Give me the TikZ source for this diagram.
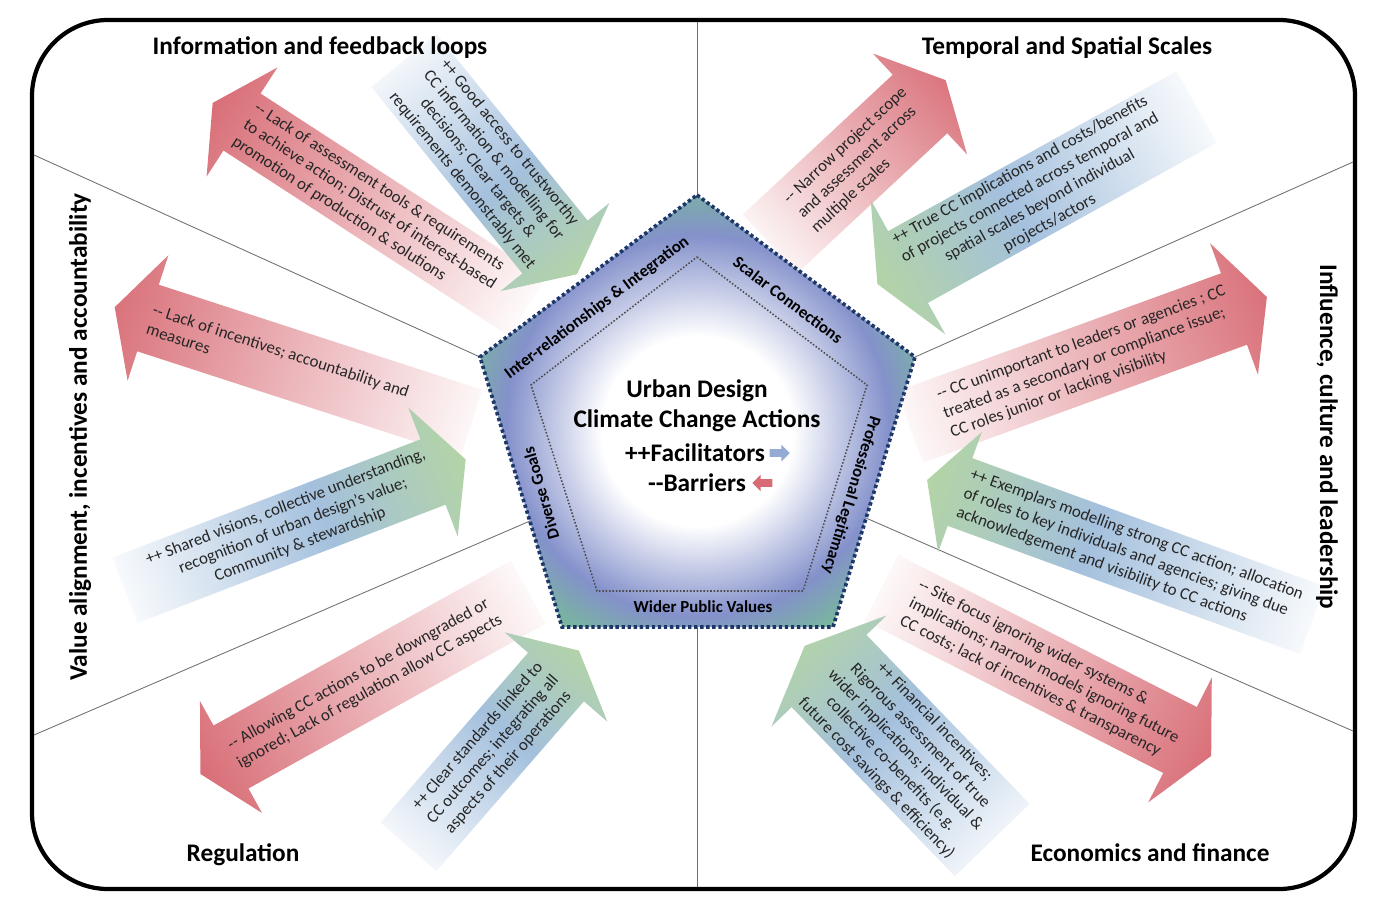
\documentclass[tikz,border=0pt]{standalone}
\usepackage{fontspec}
\setmainfont{Carlito}
\usetikzlibrary{positioning,shapes.arrows}
\definecolor{barred}{RGB}{216,108,117}
\definecolor{facblue}{RGB}{164,192,221}
\definecolor{facgreen}{RGB}{180,214,160}
\definecolor{facsmall}{RGB}{150,170,214}
\definecolor{pentblue}{RGB}{132,145,203}
\definecolor{pentgreen}{RGB}{118,190,148}
\definecolor{pentline}{RGB}{30,55,105}
\definecolor{sepline}{RGB}{110,110,110}
\pgfdeclarehorizontalshading{barshade}{100bp}{color(0bp)=(white); color(18bp)=(white); color(82bp)=(barred); color(100bp)=(barred)}
\pgfdeclarehorizontalshading{facshade}{100bp}{color(0bp)=(white); color(18bp)=(white); color(55bp)=(facblue); color(82bp)=(facgreen); color(100bp)=(facgreen)}
\pgfdeclareradialshading{pentshade}{\pgfpoint{0bp}{-3bp}}{color(0bp)=(white); color(11bp)=(white); color(22bp)=(pentblue); color(29bp)=(pentgreen); color(50bp)=(pentgreen)}
\begin{document}
\begin{tikzpicture}[x=0.025cm,y=-0.025cm]
\tikzstyle{ttl}=[font=\fontsize{18}{21}\selectfont\bfseries]
\tikzstyle{arrtxt}=[transform shape,inner sep=0pt,text=black!85,font=\fontsize{12}{14.4}\selectfont]
\tikzstyle{bartxt}=[arrtxt,align=left]
\tikzstyle{factxt}=[arrtxt,align=center]
\tikzstyle{side}=[font=\fontsize{12}{14}\selectfont\bfseries]
\tikzstyle{ctr}=[font=\fontsize{18}{21.5}\selectfont\bfseries,align=center,inner sep=1pt]
\tikzstyle{sep}=[draw=sepline,line width=0.6pt]
\tikzstyle{smallfac}=[single arrow,fill=facsmall,minimum height=0.5cm,minimum width=0.42cm,single arrow head extend=2pt,inner sep=1.5pt]
\tikzstyle{smallbar}=[single arrow,shape border rotate=180,fill=barred,minimum height=0.5cm,minimum width=0.42cm,single arrow head extend=2pt,inner sep=1.5pt]

\path[use as bounding box,fill=white] (0,0) rectangle (1380,916);

% frame and sectors
\draw[line width=3pt,rounded corners=1.9cm] (32,20) rectangle (1355,889);
\coordinate (pt) at (697,195);
\coordinate (pr) at (915,357);
\coordinate (pbr) at (833,627);
\coordinate (pbl) at (562,627);
\coordinate (pl) at (480,357);
\coordinate (pb) at (697,627);
\coordinate (rlow) at (866,518);
\coordinate (llow) at (530,521);
\coordinate (it) at (697,257);
\coordinate (ir) at (867,385);
\coordinate (ibr) at (803,591);
\coordinate (ibl) at (597,591);
\coordinate (il) at (531,385);
\draw[sep] (pt) -- (697,22);
\draw[sep] (pb) -- (697,887);
\draw[sep] (pl) -- (34,155);
\draw[sep] (pr) -- (1353,162);
\draw[sep] (rlow) -- (1353,731);
\draw[sep] (llow) -- (34,735);

% barriers
\begin{scope}[shift={(242,122)},rotate=147]
\shade[shading=barshade,shading angle=147] (35,0) -- (0,65) -- (0,34) -- (-340,34) -- (-340,-34) -- (0,-34) -- (0,-65) -- cycle;
\node[bartxt,rotate=180,anchor=west] (infobar) at (-3,0) {-{}- Lack of assessment tools \& requirements\\to achieve action; Distrust of interest-based\\promotion of production \& solutions};
\end{scope}
\begin{scope}[shift={(920,104)},rotate=43]
\shade[shading=barshade,shading angle=43] (35,0) -- (0,69) -- (0,40) -- (-205,40) -- (-205,-40) -- (0,-40) -- (0,-69) -- cycle;
\node[bartxt,anchor=east] (scalebar) at (-2,0) {-{}- Narrow project scope\\and assessment across\\multiple scales};
\end{scope}
\begin{scope}[shift={(1234,309)},rotate=20]
\shade[shading=barshade,shading angle=20] (35,0) -- (0,70) -- (0,38) -- (-345,38) -- (-345,-38) -- (0,-38) -- (0,-70) -- cycle;
\node[bartxt,anchor=east] (inflbar) at (-2,0) {-{}- CC unimportant to leaders or agencies ; CC\\treated as a secondary or compliance issue;\\CC roles junior or lacking visibility};
\end{scope}
\begin{scope}[shift={(1180,740)},rotate=-27]
\shade[shading=barshade,shading angle=-27] (35,0) -- (0,70) -- (0,37) -- (-335,37) -- (-335,-37) -- (0,-37) -- (0,-70) -- cycle;
\node[bartxt,anchor=east] (econbar) at (-2,0) {-{}- Site focus ignoring wider systems \&\\implications; narrow models ignoring future\\CC costs; lack of incentives \& transparency};
\end{scope}
\begin{scope}[shift={(231,757)},rotate=209]
\shade[shading=barshade,shading angle=209] (35,0) -- (0,64) -- (0,36) -- (-340,36) -- (-340,-36) -- (0,-36) -- (0,-64) -- cycle;
\node[bartxt,rotate=180,anchor=west] (regbar) at (-3,0) {-{}- Allowing CC actions to be downgraded or\\ignored; Lack of regulation allow CC aspects};
\end{scope}
\begin{scope}[shift={(148,318)},rotate=162]
\shade[shading=barshade,shading angle=162] (35,0) -- (0,66) -- (0,35) -- (-340,35) -- (-340,-35) -- (0,-35) -- (0,-66) -- cycle;
\node[bartxt,rotate=180,anchor=west] (valbar) at (-2,0) {-{}- Lack of incentives; accountability and\\measures};
\end{scope}

% facilitators
\begin{scope}[shift={(555,247)},rotate=-51]
\shade[shading=facshade,shading angle=-51] (35,0) -- (0,70) -- (0,42) -- (-240,42) -- (-240,-42) -- (0,-42) -- (0,-70) -- cycle;
\node[factxt] (infofac) at (-110,0) {++ Good access to trustworthy\\CC information \& modelling for\\decisions; Clear targets \&\\requirements demonstrably met};
\end{scope}
\begin{scope}[shift={(908,267)},rotate=209]
\shade[shading=facshade,shading angle=209] (35,0) -- (0,77) -- (0,41) -- (-330,41) -- (-330,-41) -- (0,-41) -- (0,-77) -- cycle;
\node[factxt,rotate=180] (scalefac) at (-145,0) {++ True CC implications and costs/benefits\\of projects connected across temporal and\\spatial scales beyond individual\\projects/actors};
\end{scope}
\begin{scope}[shift={(960,492)},rotate=160]
\shade[shading=facshade,shading angle=160] (35,0) -- (0,64) -- (0,36) -- (-375,36) -- (-375,-36) -- (0,-36) -- (0,-64) -- cycle;
\node[arrtxt,align=left,rotate=180,anchor=west] (inflfac) at (-4,0) {++ Exemplars modelling strong CC action; allocation\\of roles to key individuals and agencies; giving due\\acknowledgement and visibility to CC actions};
\end{scope}
\begin{scope}[shift={(829,671)},rotate=134]
\shade[shading=facshade,shading angle=134] (35,0) -- (0,80) -- (0,52) -- (-235,52) -- (-235,-52) -- (0,-52) -- (0,-80) -- cycle;
\node[factxt,rotate=180] (econfac) at (-110,0) {++ Financial incentives;\\Rigorous assessment of true\\wider implications; individual \&\\collective co-benefits (e.g.\\future cost savings \& efficiency)};
\end{scope}
\begin{scope}[shift={(556,677)},rotate=49]
\shade[shading=facshade,shading angle=49] (35,0) -- (0,68) -- (0,37) -- (-225,37) -- (-225,-37) -- (0,-37) -- (0,-68) -- cycle;
\node[factxt] (regfac) at (-96,0) {++ Clear standards linked to\\CC outcomes; integrating all\\aspects of their operations};
\end{scope}
\begin{scope}[shift={(433,472)},rotate=21]
\shade[shading=facshade,shading angle=21] (35,0) -- (0,69) -- (0,35) -- (-330,35) -- (-330,-35) -- (0,-35) -- (0,-69) -- cycle;
\node[factxt] (valfac) at (-150,0) {++ Shared visions, collective understanding,\\recognition of urban design's value;\\Community \& stewardship};
\end{scope}

% pentagon
\shadedraw[shading=pentshade,draw=pentline,line width=2.6pt,dash pattern=on 2.4pt off 1.9pt] (pt) -- (pr) -- (pbr) -- (pbl) -- (pl) -- cycle;
\draw[black!70,line width=1.1pt,dash pattern=on 1.1pt off 1.3pt] (it) -- (ir) -- (ibr) -- (ibl) -- (il) -- cycle;
\node[side,rotate=37] (interrel) at (597,308) {Inter-relationships \& Integration};
\node[side,rotate=-37] (scalar) at (788,300) {Scalar Connections};
\node[side,rotate=-107] (profleg) at (851,495) {Professional Legitimacy};
\node[side,rotate=106] (divgoals) at (541,493) {Diverse Goals};
\node[side] (wider) at (703,607) {Wider Public Values};

\node[ctr] (urban) at (697,406) {Urban Design\\Climate Change Actions};
\node[ctr] (facil) at (695,453) {++Facilitators};
\node[ctr] (barr) at (697,483) {-{}-Barriers};
\node[smallfac,right=2pt of facil] (facarrow) {};
\node[smallbar,right=3pt of barr] (bararrow) {};

% sector titles
\node[ttl] (info) at (320,48) {Information and feedback loops};
\node[ttl] (scales) at (1067,48) {Temporal and Spatial Scales};
\node[ttl,rotate=90] (value) at (80,437) {Value alignment, incentives and accountability};
\node[ttl,rotate=-90] (influence) at (1327,437) {Influence, culture and leadership};
\node[ttl] (regulation) at (243,855) {Regulation};
\node[ttl] (economics) at (1150,853) {Economics and finance};
\end{tikzpicture}
\end{document}
